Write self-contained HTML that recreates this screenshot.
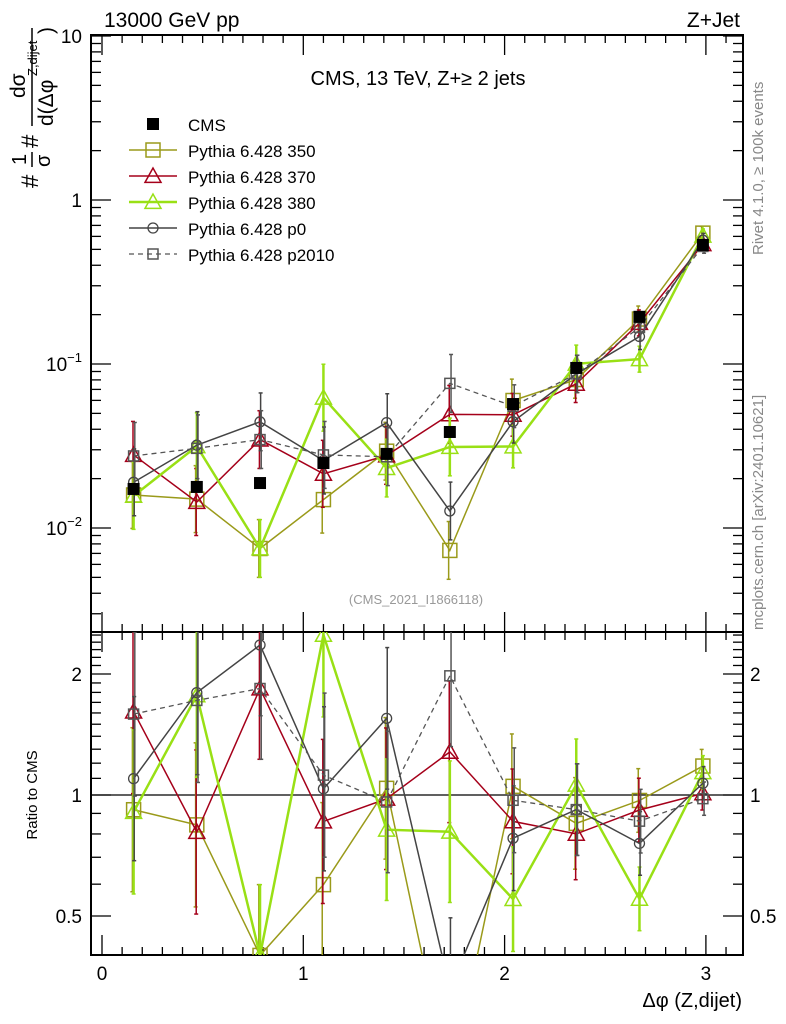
<!DOCTYPE html>
<html><head><meta charset="utf-8"><style>
html,body{margin:0;padding:0;background:#fff;width:786px;height:1024px;overflow:hidden}
svg{display:block;font-family:"Liberation Sans",sans-serif}
</style></head><body>
<svg id="c" width="786" height="1024" xmlns="http://www.w3.org/2000/svg">
<text x="104" y="27" font-size="21">13000 GeV pp</text>
<text x="740" y="27" font-size="21" text-anchor="end">Z+Jet</text>
<text x="418" y="85" font-size="20" text-anchor="middle">CMS, 13 TeV, Z+≥ 2 jets</text>
<text x="416" y="604" font-size="13" fill="#999" text-anchor="middle">(CMS_2021_I1866118)</text>
<text transform="translate(763,255) rotate(-90)" font-size="15" fill="#888">Rivet 4.1.0, ≥ 100k events</text>
<text transform="translate(763,630) rotate(-90)" font-size="15" fill="#888">mcplots.cern.ch [arXiv:2401.10621]</text>
<g transform="translate(38,188) rotate(-90)">
<text x="0" y="0" font-size="24">#</text>
<text x="23" y="-12" font-size="20">1</text><line x1="21" y1="-6" x2="36" y2="-6" stroke="#000" stroke-width="1.5"/><text x="21" y="12" font-size="20">σ</text>
<text x="40" y="0" font-size="24">#</text>
<text x="90" y="-13" font-size="21">dσ</text><line x1="62" y1="-6" x2="160" y2="-6" stroke="#000" stroke-width="1.5"/>
<text x="62" y="15" font-size="21">d(Δφ</text><text x="112" y="-1" font-size="13">Z,dijet</text><text x="154" y="15" font-size="21">)</text>
</g>
<text x="742" y="1007" font-size="20" text-anchor="end">Δφ (Z,dijet)</text>
<text transform="translate(37,795) rotate(-90)" font-size="15" text-anchor="middle">Ratio to CMS</text>
<g id="axes"></g><g id="marks"></g><g id="legend"></g>
</svg>
<script>
const xCenters=[0.157,0.471,0.785,1.100,1.414,1.728,2.042,2.356,2.670,2.985];
const cmsVals=[0.0173,0.0178,0.0188,0.0249,0.0283,0.0385,0.057,0.0946,0.194,0.532];
const s350=[0.0159,0.0150,0.0075,0.0149,0.0294,0.0073,0.0599,0.0804,0.188,0.628];
const s370=[0.0279,0.0144,0.0346,0.0214,0.0277,0.0493,0.0490,0.0757,0.178,0.537];
const s380=[0.0157,0.0315,0.0075,0.0623,0.0232,0.0312,0.0314,0.1003,0.107,0.606];
const sP0=[0.0190,0.0320,0.0444,0.0258,0.0439,0.0127,0.0445,0.087,0.147,0.569];
const sP2010=[0.0275,0.0306,0.0346,0.0279,0.0272,0.0762,0.0553,0.087,0.167,0.521];
const relErr=[0.6,0.6,0.5,0.6,0.5,0.5,0.35,0.3,0.2,0.1];
const xTicks=[0,1,2,3];
const mainTicks=[10,1,0.1,0.01];
const ratioTicks=[2,1,0.5];

const NS="http://www.w3.org/2000/svg";
const L=91,R=743,T=35,MB=632,RB=955;
const X=v=>102+v*201.3;
const YM=v=>200-164*Math.log10(v);
const YR=v=>795-121*Math.log2(v);
function el(p,t,a){const e=document.createElementNS(NS,t);for(const k in a)e.setAttribute(k,a[k]);p.appendChild(e);return e;}
const ax=document.getElementById('axes'),mk=document.getElementById('marks'),lg=document.getElementById('legend');
let f=el(ax,'rect',{x:L,y:T,width:R-L,height:MB-T,fill:'none',stroke:'#000','stroke-width':2});


f=el(ax,'rect',{x:L,y:MB,width:R-L,height:RB-MB,fill:'none',stroke:'#000','stroke-width':2});


el(ax,'line',{x1:L,x2:R,y1:YR(1),y2:YR(1),stroke:'#000','stroke-width':1.3});
for(let i=-1;i<=32;i++){const v=i/10,x=X(v);if(x<L||x>R)continue;const maj=i%10==0;const h=maj?20:8;
 [[T,1],[MB,-1],[MB,1],[RB,-1]].forEach(([y,d])=>el(ax,'line',{x1:x,x2:x,y1:y,y2:y+d*h,stroke:'#000','stroke-width':1.3}));}
xTicks.forEach(v=>{const t=el(ax,'text',{x:X(v),y:980,'font-size':19,'text-anchor':'middle'});t.textContent=v;
 
 });
for(let d=-3;d<=1;d++)for(let m=1;m<10;m++){const v=m*Math.pow(10,d),y=YM(v);if(y<T-0.5||y>MB)continue;const h=m==1?20:10;
 el(ax,'line',{x1:L,x2:L+h,y1:y,y2:y,stroke:'#000','stroke-width':1.3});el(ax,'line',{x1:R,x2:R-h,y1:y,y2:y,stroke:'#000','stroke-width':1.3});}
mainTicks.forEach(v=>{const t=el(ax,'text',{x:82,y:YM(v)+7,'font-size':19,'text-anchor':'end'});
 if(v>=1)t.textContent=v;else{t.textContent='10';const s=el(t,'tspan',{dy:-9,'font-size':13});s.textContent='−'+Math.round(-Math.log10(v));}
 
 });
for(let v=0.4;v<=2.55;v+=0.1){const y=YR(v);if(y<MB||y>RB)continue;const maj=[0.5,1,2].some(m=>Math.abs(m-v)<1e-6);const h=maj?20:10;
 el(ax,'line',{x1:L,x2:L+h,y1:y,y2:y,stroke:'#000','stroke-width':1.3});el(ax,'line',{x1:R,x2:R-h,y1:y,y2:y,stroke:'#000','stroke-width':1.3});}
ratioTicks.forEach(v=>{[[82,'end'],[750,'start']].forEach(([x,a])=>{const t=el(ax,'text',{x:x,y:YR(v)+7,'font-size':19,'text-anchor':a});t.textContent=v;
 
 });});

const series=[
 {name:'Pythia 6.428 350',vals:s350,col:'#9a9a1a',w:1.5,dash:'',mk:'sq',sz:7},
 {name:'Pythia 6.428 370',vals:s370,col:'#a5001a',w:1.5,dash:'',mk:'tri',sz:8},
 {name:'Pythia 6.428 380',vals:s380,col:'#99e015',w:2.5,dash:'',mk:'tri',sz:8},
 {name:'Pythia 6.428 p0',vals:sP0,col:'#444',w:1.5,dash:'',mk:'circ',sz:5},
 {name:'Pythia 6.428 p2010',vals:sP2010,col:'#555',w:1.3,dash:'5,4',mk:'sq',sz:5}];
function marker(g,m,x,y,c,sz){
 if(m=='sq')return el(g,'rect',{x:x-sz,y:y-sz,width:2*sz,height:2*sz,fill:'none',stroke:c,'stroke-width':1.5});
 if(m=='tri')return el(g,'polygon',{points:`${x},${y-sz} ${x-sz},${y+sz*0.8} ${x+sz},${y+sz*0.8}`,fill:'none',stroke:c,'stroke-width':1.5});
 return el(g,'circle',{cx:x,cy:y,r:sz,fill:'none',stroke:c,'stroke-width':1.3});}
const clipM=el(mk,'clipPath',{id:'cm'});el(clipM,'rect',{x:L,y:T,width:R-L,height:MB-T});
const clipR=el(mk,'clipPath',{id:'cr'});el(clipR,'rect',{x:L,y:MB,width:R-L,height:RB-MB});
series.forEach((s,si)=>{
 [['cm',YM,i=>s.vals[i]],['cr',YR,i=>s.vals[i]/cmsVals[i]]].forEach(([cp,Y,f])=>{
  const g=el(mk,'g',{'clip-path':`url(#${cp})`});
  
  
  xCenters.forEach((xv,i)=>{const v=f(i),e=relErr[i];const x=X(xv)+(si-2)*0.6;
   el(g,'line',{x1:x,x2:x,y1:Y(v*(1+e)),y2:Y(v/(1+e)),stroke:s.col,'stroke-width':s.w==2.5?2.5:1.5});
   [v*(1+e),v/(1+e)].forEach(q=>el(g,'line',{x1:x-2,x2:x+2,y1:Y(q),y2:Y(q),stroke:s.col,'stroke-width':1.5}));});
  el(g,'polyline',{points:xCenters.map((xv,i)=>X(xv)+','+Y(f(i))).join(' '),fill:'none',stroke:s.col,'stroke-width':s.w,'stroke-dasharray':s.dash});
  xCenters.forEach((xv,i)=>{const m=marker(g,s.mk,X(xv),Y(f(i)),s.col,s.sz);
   
   });
 });
});
const cg=el(mk,'g',{'clip-path':'url(#cm)'});


xCenters.forEach((xv,i)=>{const r=el(cg,'rect',{x:X(xv)-6,y:YM(cmsVals[i])-6,width:12,height:12,fill:'#000'});
 
 });
const rows=[124,150,176,202,228,254];
el(lg,'rect',{x:147,y:rows[0]-6,width:12,height:12,fill:'#000'});
let t0=el(lg,'text',{x:188,y:rows[0]+7,'font-size':17});t0.textContent='CMS';


series.forEach((s,i)=>{const y=rows[i+1];
 el(lg,'line',{x1:129,x2:177,y1:y,y2:y,stroke:s.col,'stroke-width':s.w,'stroke-dasharray':s.dash});
 marker(lg,s.mk,153,y,s.col,s.sz);
 const t=el(lg,'text',{x:188,y:y+7,'font-size':17});t.textContent=s.name;
 
 });
</script>
</body></html>
